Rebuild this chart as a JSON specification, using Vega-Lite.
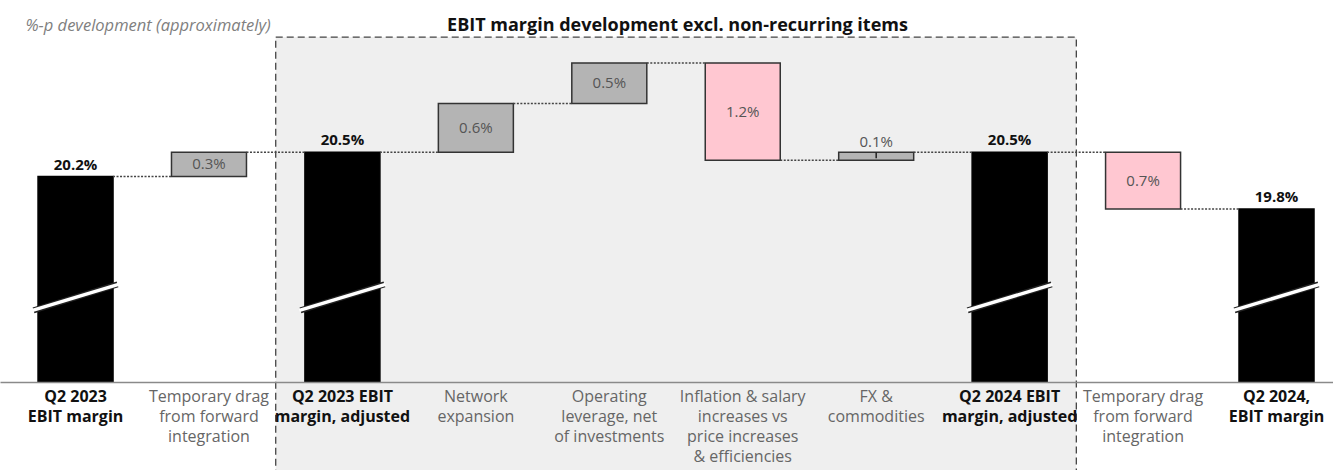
{
  "$schema": "https://vega.github.io/schema/vega-lite/v6.json",
  "width": 1333,
  "height": 342,
  "autosize": {"type": "none"},
  "padding": {"left": 0, "right": 0, "top": 40, "bottom": 88},
  "background": "white",
  "config": {"font": "Open Sans", "view": {"stroke": null}},
  "title": {"text": "EBIT margin development excl. non-recurring items", "fontSize": 18, "fontWeight": "bold", "color": "#111", "anchor": "middle", "dx": 11, "dy": 23, "offset": 5, "font": "Open Sans"},
  "datasets": {
    "bars": [
      {"key": "01|Q2 2023|EBIT margin", "start": 0, "end": 20.2, "kind": "total", "label": "20.2%"},
      {"key": "02|Temporary drag|from forward|integration", "start": 20.2, "end": 20.5, "kind": "up", "label": "0.3%"},
      {"key": "03|Q2 2023 EBIT|margin, adjusted", "start": 0, "end": 20.5, "kind": "total", "label": "20.5%"},
      {"key": "04|Network|expansion", "start": 20.5, "end": 21.1, "kind": "up", "label": "0.6%"},
      {"key": "05|Operating|leverage, net|of investments", "start": 21.1, "end": 21.6, "kind": "up", "label": "0.5%"},
      {"key": "06|Inflation & salary|increases vs|price increases|& efficiencies", "start": 21.6, "end": 20.4, "kind": "down", "label": "1.2%"},
      {"key": "07|FX &|commodities", "start": 20.4, "end": 20.5, "kind": "up", "label": "0.1%"},
      {"key": "08|Q2 2024 EBIT|margin, adjusted", "start": 0, "end": 20.5, "kind": "total", "label": "20.5%"},
      {"key": "09|Temporary drag|from forward|integration", "start": 20.5, "end": 19.8, "kind": "down", "label": "0.7%"},
      {"key": "10|Q2 2024,|EBIT margin", "start": 0, "end": 19.8, "kind": "total", "label": "19.8%"}
    ],
    "links": [
      {"from": "01|Q2 2023|EBIT margin", "to": "02|Temporary drag|from forward|integration", "level": 20.2},
      {"from": "02|Temporary drag|from forward|integration", "to": "03|Q2 2023 EBIT|margin, adjusted", "level": 20.5},
      {"from": "03|Q2 2023 EBIT|margin, adjusted", "to": "04|Network|expansion", "level": 20.5},
      {"from": "04|Network|expansion", "to": "05|Operating|leverage, net|of investments", "level": 21.1},
      {"from": "05|Operating|leverage, net|of investments", "to": "06|Inflation & salary|increases vs|price increases|& efficiencies", "level": 21.6},
      {"from": "06|Inflation & salary|increases vs|price increases|& efficiencies", "to": "07|FX &|commodities", "level": 20.4},
      {"from": "07|FX &|commodities", "to": "08|Q2 2024 EBIT|margin, adjusted", "level": 20.5},
      {"from": "08|Q2 2024 EBIT|margin, adjusted", "to": "09|Temporary drag|from forward|integration", "level": 20.5},
      {"from": "09|Temporary drag|from forward|integration", "to": "10|Q2 2024,|EBIT margin", "level": 19.8}
    ],
    "region": [
      {"from": "03|Q2 2023 EBIT|margin, adjusted", "to": "08|Q2 2024 EBIT|margin, adjusted"}
    ]
  },
  "layer": [
    {
      "data": {"name": "region"},
      "mark": {"type": "rect", "fill": "#efefef", "stroke": "#444", "strokeWidth": 1.3, "strokeDash": [7, 4], "xOffset": -66.7, "x2Offset": 66.7},
      "encoding": {
        "x": {"field": "from", "type": "nominal", "title": null},
        "x2": {"field": "to"},
        "y": {"datum": 21.92},
        "y2": {"datum": 16.4}
      }
    },
    {
      "data": {"name": "bars"},
      "mark": {"type": "bar", "clip": true, "strokeWidth": 1.5},
      "encoding": {
        "x": {
          "field": "key", "type": "nominal", "sort": null, "title": null,
          "scale": {
            "domain": ["01|Q2 2023|EBIT margin", "02|Temporary drag|from forward|integration", "03|Q2 2023 EBIT|margin, adjusted", "04|Network|expansion", "05|Operating|leverage, net|of investments", "06|Inflation & salary|increases vs|price increases|& efficiencies", "07|FX &|commodities", "08|Q2 2024 EBIT|margin, adjusted", "09|Temporary drag|from forward|integration", "10|Q2 2024,|EBIT margin"],
            "paddingInner": 0.438, "paddingOuter": 0.2137, "align": 0.667
          },
          "axis": {
            "labelExpr": "slice(split(datum.value, '|'), 1)",
            "labelAngle": 0, "labelAlign": "center", "labelFontSize": 16, "labelLineHeight": 20, "labelPadding": 6, "labelBaseline": "top",
            "labelColor": {"condition": {"test": "indexof(datum.value, 'EBIT') >= 0", "value": "#111"}, "value": "#666"},
            "labelFontWeight": {"condition": {"test": "indexof(datum.value, 'EBIT') >= 0", "value": "bold"}, "value": "normal"},
            "ticks": false, "domainColor": "#8a8a8a", "domainWidth": 1.5, "labelOverlap": false, "labelLimit": 0, "zindex": 1, "title": null
          }
        },
        "y": {
          "field": "start", "type": "quantitative",
          "scale": {"domain": [17.667, 21.884], "nice": false, "zero": false},
          "axis": {"title": "%-p development (approximately)", "titleAngle": 0, "titleAlign": "left", "titleBaseline": "middle", "titleX": 25, "titleY": -15, "titleFontStyle": "italic", "titleFontWeight": "normal", "titleFontSize": 16.5, "titleColor": "#808080", "labels": false, "ticks": false, "domain": false, "grid": false}
        },
        "y2": {"field": "end"},
        "fill": {"field": "kind", "type": "nominal", "scale": {"domain": ["total", "up", "down"], "range": ["#000000", "#b4b4b4", "#ffc7d1"]}, "legend": null},
        "stroke": {"field": "kind", "type": "nominal", "scale": {"domain": ["total", "up", "down"], "range": ["#000000", "#333333", "#333333"]}, "legend": null}
      }
    },
    {
      "data": {"name": "links"},
      "mark": {"type": "rule", "color": "#444", "strokeWidth": 1.5, "strokeDash": [2, 1.5], "xOffset": 37.5, "x2Offset": -37.5},
      "encoding": {
        "x": {"field": "from", "type": "nominal"},
        "x2": {"field": "to"},
        "y": {"field": "level", "type": "quantitative"}
      }
    },
    {
      "data": {"name": "bars"},
      "transform": [{"filter": "datum.kind == 'total'"}],
      "mark": {"type": "rule", "color": "#222", "strokeWidth": 6, "xOffset": -42, "x2Offset": 42},
      "encoding": {
        "x": {"field": "key", "type": "nominal"},
        "x2": {"field": "key"},
        "y": {"datum": 18.55},
        "y2": {"datum": 18.87}
      }
    },
    {
      "data": {"name": "bars"},
      "transform": [{"filter": "datum.kind == 'total'"}],
      "mark": {"type": "rule", "color": "#ffffff", "strokeWidth": 3.5, "xOffset": -43, "x2Offset": 43},
      "encoding": {
        "x": {"field": "key", "type": "nominal"},
        "x2": {"field": "key"},
        "y": {"datum": 18.55},
        "y2": {"datum": 18.87}
      }
    },
    {
      "data": {"name": "bars"},
      "transform": [{"filter": "datum.kind == 'total'"}],
      "mark": {"type": "text", "fontSize": 15, "fontWeight": "bold", "color": "#111", "baseline": "alphabetic", "dy": -7},
      "encoding": {
        "x": {"field": "key", "type": "nominal"},
        "y": {"field": "end", "type": "quantitative"},
        "text": {"field": "label"}
      }
    },
    {
      "data": {"name": "bars"},
      "transform": [{"filter": "datum.kind != 'total' && abs(datum.end - datum.start) > 0.15"}, {"calculate": "(datum.start + datum.end) / 2", "as": "mid"}],
      "mark": {"type": "text", "fontSize": 15, "color": "#555", "baseline": "middle"},
      "encoding": {
        "x": {"field": "key", "type": "nominal"},
        "y": {"field": "mid", "type": "quantitative"},
        "text": {"field": "label"}
      }
    },
    {
      "data": {"name": "bars"},
      "transform": [{"filter": "datum.kind != 'total' && abs(datum.end - datum.start) <= 0.15"}],
      "mark": {"type": "text", "fontSize": 15, "color": "#555", "baseline": "alphabetic", "dy": -5},
      "encoding": {
        "x": {"field": "key", "type": "nominal"},
        "y": {"field": "end", "type": "quantitative"},
        "text": {"field": "label"}
      }
    },
    {
      "data": {"name": "bars"},
      "transform": [{"filter": "datum.kind != 'total' && abs(datum.end - datum.start) <= 0.15"}],
      "mark": {"type": "rule", "color": "#222", "strokeWidth": 1.5, "y2Offset": 6},
      "encoding": {
        "x": {"field": "key", "type": "nominal"},
        "y": {"field": "end", "type": "quantitative"},
        "y2": {"field": "end"}
      }
    }
  ]
}
